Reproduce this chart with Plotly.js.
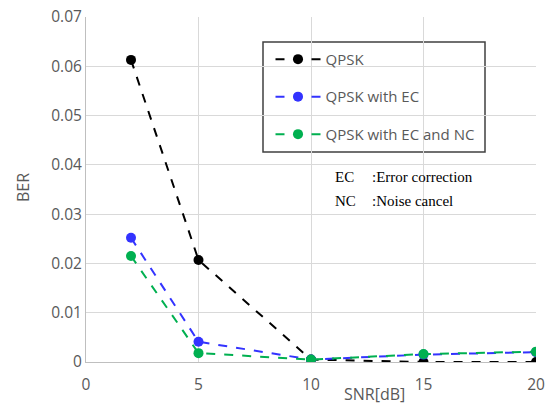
<!DOCTYPE html>
<html><head><meta charset="utf-8">
<script src="https://cdn.plot.ly/plotly-3.0.1.min.js"></script>
<style>body{margin:0;background:#fff}#c{width:547px;height:405px}</style>
</head><body><div id="c"></div>
<script>
const snr = [2, 5, 10, 15, 20];
const berQPSK = [0.0613, 0.0207, 0.0005, 0.0000, 0.0000];
const berEC = [0.0252, 0.0041, 0.0005, 0.0015, 0.0020];
const berECNC = [0.0215, 0.0018, 0.0005, 0.0016, 0.0021];
const names = ['QPSK', 'QPSK with EC', 'QPSK with EC and NC'];
const colors = ['#000000', '#3333ff', '#00b050'];
const yTicks = [0, 0.01, 0.02, 0.03, 0.04, 0.05, 0.06, 0.07];
const xTicks = [0, 5, 10, 15, 20];
const xTitle = 'SNR[dB]';
const yTitle = 'BER';
const notes = ['EC', ':Error correction', 'NC', ':Noise cancel'];

const series = [berQPSK, berEC, berECNC];
const traces = series.map((y, i) => ({
  x: snr, y: y, name: names[i], type: 'scatter', mode: 'lines+markers',
  legendgroup: 'g' + i,
  line: {color: colors[i], dash: 'dash', width: 2},
  marker: {color: colors[i], size: 10}
}));

const px = v => (v - 86) / 450;
const py = v => (362 - v) / 345;
const serif = {family: 'Liberation Serif, serif', size: 15, color: '#000'};
const notePos = [[333, 177], [370, 177], [333, 201], [370, 201]];

const layout = {
  width: 547, height: 405,
  margin: {l: 86, r: 11, t: 17, b: 43},
  paper_bgcolor: '#fff', plot_bgcolor: '#fff',
  font: {family: 'Open Sans, sans-serif', color: '#595959', size: 15.5},
  xaxis: {
    range: [0, 20], tickvals: xTicks, ticktext: xTicks.map(String),
    showgrid: true, gridcolor: '#d9d9d9', gridwidth: 1,
    zeroline: false, showline: true, linecolor: '#bfbfbf', linewidth: 1,
    ticks: '', ticklabelstandoff: 8, tickfont: {size: 15.5, color: '#595959'}
  },
  yaxis: {
    range: [0, 0.07], tickvals: yTicks, ticktext: yTicks.map(v => v === 0 ? '0' : v.toFixed(2)),
    showgrid: true, gridcolor: '#d9d9d9', gridwidth: 1,
    zeroline: false, showline: true, linecolor: '#bfbfbf', linewidth: 1,
    ticks: '', tickfont: {size: 15.5, color: '#595959'}
  },
  showlegend: true,
  legend: {
    x: 0.41, y: 0.925, xanchor: 'left', yanchor: 'top',
    bgcolor: 'rgba(0,0,0,0)', borderwidth: 0,
    font: {size: 15, color: '#595959'},
    tracegroupgap: 15, itemwidth: 45
  },
  shapes: [{
    type: 'rect', xref: 'paper', yref: 'paper',
    x0: px(263), x1: px(485), y0: py(152), y1: py(42),
    line: {color: '#404040', width: 1.5}, fillcolor: 'rgba(255,255,255,1)', layer: 'below'
  }],
  annotations: notes.map((t, i) => ({
    text: t, xref: 'paper', yref: 'paper', x: px(notePos[i][0]), y: py(notePos[i][1]),
    xanchor: 'left', yanchor: 'middle', showarrow: false, font: serif
  })).concat([
    {text: xTitle, xref: 'paper', yref: 'paper', x: px(374), y: py(394), xanchor: 'center', yanchor: 'middle',
     showarrow: false, font: {size: 16, color: '#595959'}},
    {text: yTitle, xref: 'paper', yref: 'paper', x: px(23), y: py(187), xanchor: 'center', yanchor: 'middle',
     textangle: -90, showarrow: false, font: {size: 16, color: '#595959'}}
  ])
};
Plotly.newPlot('c', traces, layout, {displayModeBar: false, staticPlot: true});
</script></body></html>
